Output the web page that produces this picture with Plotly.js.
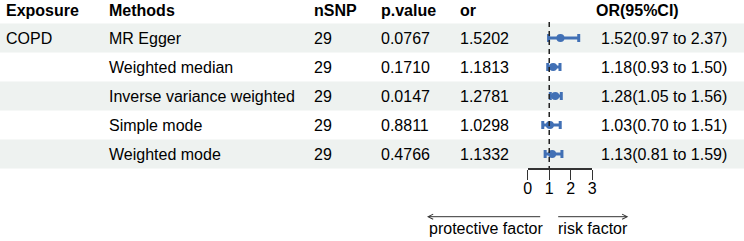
<!DOCTYPE html>
<html><head><meta charset="utf-8">
<script src="https://cdn.plot.ly/plotly-3.0.1.min.js"></script>
<style>html,body{margin:0;padding:0;background:#fff}#chart{width:744px;height:241px}</style>
</head><body><div id="chart"></div>
<script>
// ---- data ----
const headers = ["Exposure", "Methods", "nSNP", "p.value", "or", "OR(95%CI)"];
const exposure = ["COPD", "", "", "", ""];
const methods = ["MR Egger", "Weighted median", "Inverse variance weighted", "Simple mode", "Weighted mode"];
const nsnp = [29, 29, 29, 29, 29];
const pvalues = ["0.0767", "0.1710", "0.0147", "0.8811", "0.4766"];
const orValues = [1.5202, 1.1813, 1.2781, 1.0298, 1.1332];
const ciLower = [0.97, 0.93, 1.05, 0.70, 0.81];
const ciUpper = [2.37, 1.50, 1.56, 1.51, 1.59];
const axisTicks = [0, 1, 2, 3];
const directionLabels = ["protective factor", "risk factor"];

// ---- layout helpers ----
const W = 744, H = 241;
const rowTop = 9, rowStep = 29;           // pixel centre of row 0 and row spacing
const FONT = "Liberation Sans, Arial, sans-serif";
const px = v => v / W;
const py = v => 1 - v / H;
const rows = methods.map((_, i) => i + 1);
const orText = orValues.map(v => v.toFixed(4));
const ciText = orValues.map((v, i) => v.toFixed(2) + "(" + ciLower[i].toFixed(2) + " to " + ciUpper[i].toFixed(2) + ")");

const columns = [
  {x: 4, hx: 4, vals: exposure},
  {x: 107, hx: 107, vals: methods},
  {x: 312, hx: 312, vals: nsnp.map(String)},
  {x: 379, hx: 379, vals: pvalues},
  {x: 458, hx: 458, vals: orText},
  {x: 599, hx: 594, vals: ciText}
];

const annotations = [];
columns.forEach((c, ci) => {
  annotations.push({xref: "paper", yref: "paper", x: px(c.hx), y: 1, xanchor: "left", yanchor: "top",
    text: "<b>" + headers[ci] + "</b>", showarrow: false, font: {family: FONT, size: 16, color: "#000"}});
  c.vals.forEach((t, i) => {
    if (!t) return;
    annotations.push({xref: "paper", yref: "y", x: px(c.x), y: rows[i], xanchor: "left", yanchor: "middle",
      text: t, showarrow: false, font: {family: FONT, size: 16, color: "#000"}});
  });
});
// direction arrows
annotations.push({xref: "paper", yref: "paper", x: px(427), y: py(216.7), ax: 114.7, ay: 0, text: "",
  showarrow: true, arrowhead: 5, arrowwidth: 1, arrowsize: 1, arrowcolor: "#333", standoff: 0});
annotations.push({xref: "paper", yref: "paper", x: px(628.3), y: py(216.7), ax: -71.6, ay: 0, text: "",
  showarrow: true, arrowhead: 5, arrowwidth: 1, arrowsize: 1, arrowcolor: "#333", standoff: 0});
annotations.push({xref: "paper", yref: "paper", x: px(427), y: py(228), xanchor: "left", yanchor: "middle",
  text: directionLabels[0], showarrow: false, font: {family: FONT, size: 16, color: "#000"}});
annotations.push({xref: "paper", yref: "paper", x: px(555.5), y: py(228), xanchor: "left", yanchor: "middle",
  text: directionLabels[1], showarrow: false, font: {family: FONT, size: 16, color: "#000"}});

const shapes = [];
rows.forEach(r => {
  if (r % 2 === 1) shapes.push({type: "rect", xref: "paper", yref: "y", x0: 0, x1: 1, y0: r - 0.5, y1: r + 0.5,
    fillcolor: "#EEF2F0", line: {width: 0}, layer: "below"});
});
shapes.push({type: "line", xref: "x", yref: "y", x0: 1, x1: 1, y0: 0.45, y1: rows.length + 0.5,
  line: {color: "#222", width: 1.5, dash: "5px,4px"}, layer: "above"});

const trace = {
  type: "scatter", mode: "markers", x: orValues, y: rows,
  marker: {symbol: "circle", size: 8, color: "#4170B5"},
  error_x: {type: "data", symmetric: false,
    array: ciUpper.map((v, i) => v - orValues[i]),
    arrayminus: ciLower.map((v, i) => orValues[i] - v),
    color: "#4170B5", thickness: 3, width: 4},
  hoverinfo: "skip", showlegend: false
};

const layout = {
  width: W, height: H, margin: {l: 0, r: 0, t: 0, b: 0},
  paper_bgcolor: "#fff", plot_bgcolor: "rgba(0,0,0,0)",
  showlegend: false,
  xaxis: {domain: [px(527.7), px(592.3)], range: [0, 3], tickvals: axisTicks, ticktext: axisTicks.map(String),
    ticks: "outside", ticklen: 10, tickwidth: 1.3, tickcolor: "#333", ticklabelstandoff: -5,
    showline: true, linecolor: "#333", linewidth: 1.3, showgrid: false, zeroline: false,
    anchor: "free", position: py(168.3), tickfont: {family: FONT, size: 16, color: "#000"}, fixedrange: true},
  yaxis: {domain: [0, 1], range: [(H - rowTop) / rowStep, -rowTop / rowStep], visible: false,
    showgrid: false, zeroline: false, fixedrange: true, anchor: "free", position: 0},
  shapes: shapes, annotations: annotations
};

Plotly.newPlot("chart", [trace], layout, {displayModeBar: false, staticPlot: true});
</script>
</body></html>
